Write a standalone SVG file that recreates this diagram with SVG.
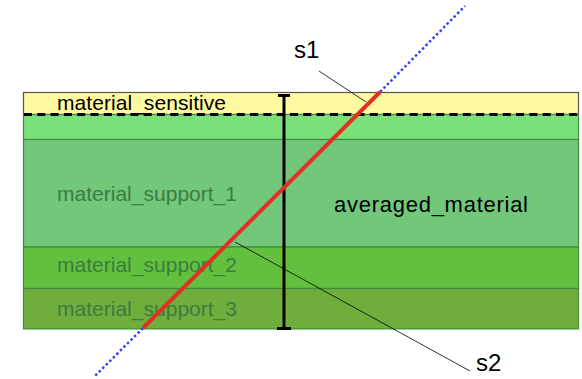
<svg xmlns="http://www.w3.org/2000/svg" width="582" height="379" viewBox="0 0 582 379">
<style>
.lbl{font-family:"Liberation Sans",Arial,sans-serif;font-size:21px}
.sup{fill:#3b7d3f}
.blk{fill:#000}
.layer{stroke:#3f8a3f;stroke-width:1.2}
</style>
<rect width="582" height="379" fill="#fff"/>
<g id="layers">
<rect id="sensitive" x="23.5" y="92.5" width="555" height="22" fill="#fff9a0" stroke="#555" stroke-width="1.2"/>
<rect id="layer_top" class="layer" x="23.5" y="114.5" width="555" height="25" fill="#7be07a"/>
<rect id="support_1" class="layer" x="23.5" y="139.5" width="555" height="107.5" fill="#72c77a"/>
<rect id="support_2" class="layer" x="23.5" y="247" width="555" height="41.5" fill="#62c03e"/>
<rect id="support_3" class="layer" x="23.5" y="288.5" width="555" height="40.5" fill="#6fad3d"/>
<line x1="23.5" y1="329.5" x2="578.5" y2="329.5" stroke="#8fd08f" stroke-width="1"/>
</g>
<line id="dash" x1="24" y1="114.5" x2="578" y2="114.5" stroke="#000" stroke-width="3" stroke-dasharray="8 5.3"/>
<g id="texts">
<text class="lbl blk" x="57" y="110" textLength="169">material_sensitive</text>
<text class="lbl sup" x="57" y="201" textLength="180">material_support_1</text>
<text class="lbl sup" x="57" y="272" textLength="180">material_support_2</text>
<text class="lbl sup" x="57" y="316" textLength="180">material_support_3</text>
<text class="lbl blk" x="334" y="212" style="font-size:22px" textLength="194">averaged_material</text>
</g>
<g id="ibeam" stroke="#000" stroke-width="3" fill="none">
<line x1="284" y1="95" x2="284" y2="329"/>
<line x1="278" y1="95.5" x2="290" y2="95.5"/>
<line x1="277" y1="328.5" x2="291" y2="328.5"/>
</g>
<g id="connectors" fill="none">
<line x1="380" y1="92" x2="465" y2="6" stroke="#3344ee" stroke-width="2.5" stroke-dasharray="2.5 2.5"/>
<line x1="143" y1="328" x2="94" y2="377" stroke="#3344ee" stroke-width="2.5" stroke-dasharray="2.5 2.5"/>
<line x1="380" y1="92" x2="143" y2="328" stroke="#e03222" stroke-width="4"/>
<line x1="319" y1="71" x2="366" y2="102" stroke="#000" stroke-width="0.8"/>
<line x1="235" y1="242" x2="470" y2="371" stroke="#000" stroke-width="0.8"/>
</g>
<g id="labels">
<text class="lbl blk" x="294" y="58" style="font-size:24px">s1</text>
<text class="lbl blk" x="476" y="371" style="font-size:24px">s2</text>
</g>
</svg>
